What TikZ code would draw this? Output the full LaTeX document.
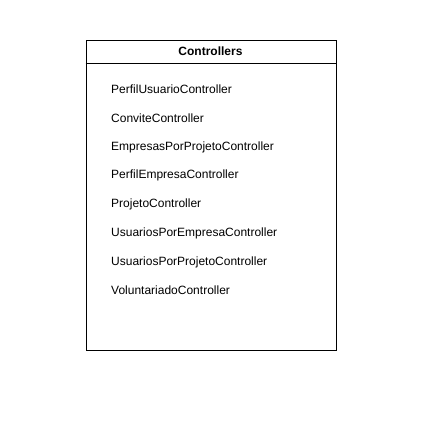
\documentclass[tikz,border=0pt]{standalone}
\usepackage{fontspec}
\setmainfont{Liberation Sans}

\begin{document}
\begin{tikzpicture}[x=1pt, y=-1pt, font=\fontsize{12}{14}\selectfont]
		
		\def\W{250} % Width of the class box
		
		\def\H{310} % Height of the class box
		
		\def\Hd{23} % Height of the header
		
		% Fix the page size
		
		\useasboundingbox (0,0) rectangle (428,420);
		
		% Draw the class box and its header
		
		\node[draw, line width=0.8pt, minimum width=\W pt, minimum height=\H pt, inner sep=0pt, anchor=north west] (controllers) at (85.5,40) {};
		
		\draw[line width=0.8pt] ([yshift=-\Hd pt]controllers.north west) -- ([yshift=-\Hd pt]controllers.north east);
		
		\node[font=\fontsize{12}{14}\selectfont\bfseries] (title) at (210.5,51.5) {Controllers};
		
		% List the controllers
		
		\node[anchor=west, inner sep=0pt] (perfilUsuario) at (111,89.5) {PerfilUsuarioController};
		
		\node[anchor=west, inner sep=0pt] (convite) at (111,118) {ConviteController};
		
		\node[anchor=west, inner sep=0pt] (empresasPorProjeto) at (111,147) {EmpresasPorProjetoController};
		
		\node[anchor=west, inner sep=0pt] (perfilEmpresa) at (111,175.5) {PerfilEmpresaController};
		
		\node[anchor=west, inner sep=0pt] (projeto) at (111,204.5) {ProjetoController};
		
		\node[anchor=west, inner sep=0pt] (usuariosPorEmpresa) at (111,233) {UsuariosPorEmpresaController};
		
		\node[anchor=west, inner sep=0pt] (usuariosPorProjeto) at (111,262) {UsuariosPorProjetoController};
		
		\node[anchor=west, inner sep=0pt] (voluntariado) at (111,290.5) {VoluntariadoController};
		
	\end{tikzpicture}
\end{document}
